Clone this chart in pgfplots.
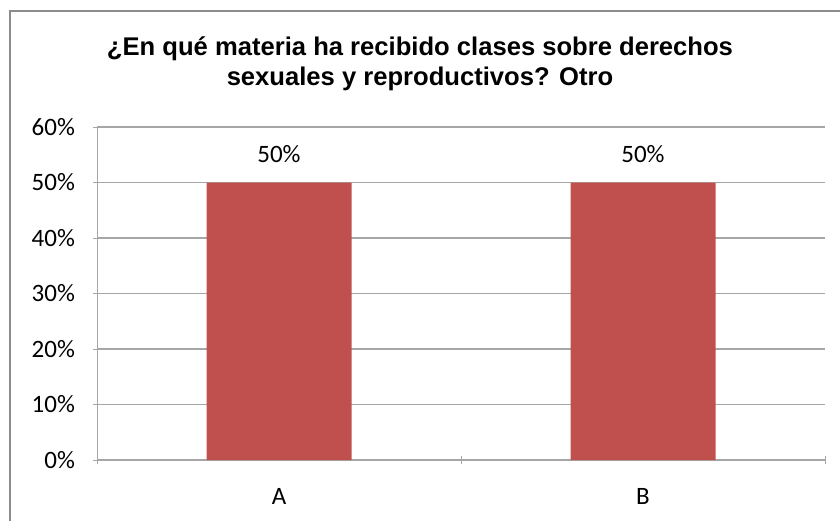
\documentclass[border=0pt]{standalone}
\usepackage{fontspec}
\setmainfont{Carlito}
\newfontfamily\titlefont{Liberation Sans}
\usepackage{pgfplots}
\pgfplotsset{compat=1.18}
\definecolor{barred}{HTML}{C0504D}
\definecolor{gridgray}{HTML}{A6A6A6}
\definecolor{framegray}{HTML}{8C8C8C}
\begin{document}
\begin{tikzpicture}[x=1pt,y=1pt]
\path[use as bounding box] (0,0) rectangle (420,260);
\draw[framegray, line width=1pt] (5,-10) rectangle (430,254.5);
\node[align=center, font=\titlefont\bfseries\fontsize{12.8}{15}\selectfont]
  at (210,228) {¿En qué materia ha recibido clases sobre derechos\\sexuales y reproductivos? Otro};
\begin{axis}[
  at={(48.5pt,30pt)}, anchor=south west,
  scale only axis, width=364pt, height=166.5pt,
  ybar, bar width=72.5pt,
  xmin=-0.5, xmax=1.5, ymin=0, ymax=60,
  xtick={0,1}, xticklabels={A,B},
  minor xtick={-0.5,0.5,1.5},
  major x tick style={draw=none},
  minor x tick style={gridgray},
  ytick={0,10,...,60},
  yticklabel={\pgfmathprintnumber{\tick}\%},
  /pgf/number format/assume math mode=true,
  tick align=outside, major tick length=4pt, minor tick length=4pt,
  y tick style={gridgray},
  axis x line=bottom, axis y line=left,
  axis line style={gridgray, -},
  ymajorgrids, grid style={gridgray, line width=0.6pt},
  tick label style={font=\fontsize{12.5}{14}\selectfont, black},
  xticklabel style={yshift=-8.5pt},
  yticklabel style={xshift=-5.5pt},
  nodes near coords={\pgfmathprintnumber{\pgfplotspointmeta}\%},
  nodes near coords style={font=\fontsize{12.5}{14}\selectfont, black, yshift=6.5pt},
]
\addplot[fill=barred, draw=none] coordinates {(0,50) (1,50)};
\end{axis}
\end{tikzpicture}
\end{document}
